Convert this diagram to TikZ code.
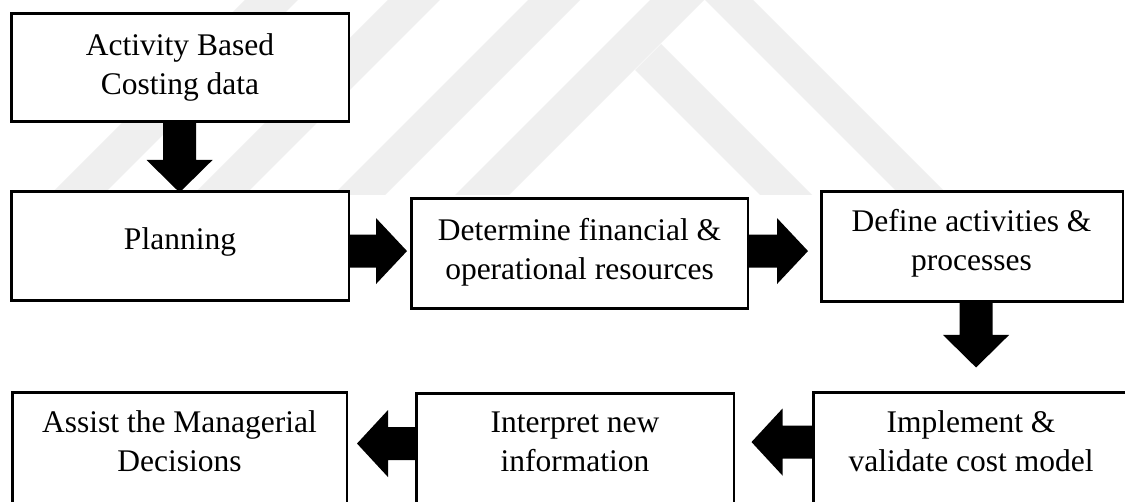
\documentclass[tikz,border=0pt]{standalone}
\usepackage{fontspec}
\setmainfont{Liberation Serif}
\usetikzlibrary{calc}
\definecolor{wm}{RGB}{239,239,239}
% block arrows: #1 start (node anchor), #2 tip (named coordinate)
\newcommand\downblock[2]{\fill let \p1=(#1),\p2=(#2) in
  (\x1-16.5pt,\y1) -- (\x1+16.5pt,\y1) -- (\x1+16.5pt,\y2+32.5pt) -- (\x1+33pt,\y2+32.5pt)
  -- (\x1,\y2) -- (\x1-33pt,\y2+32.5pt) -- (\x1-16.5pt,\y2+32.5pt) -- cycle;}
\newcommand\rightblock[2]{\fill let \p1=(#1),\p2=(#2) in
  (\x1,\y1+16.5pt) -- (\x2-31pt,\y1+16.5pt) -- (\x2-31pt,\y1+33pt) -- (\x2,\y1)
  -- (\x2-31pt,\y1-33pt) -- (\x2-31pt,\y1-16.5pt) -- (\x1,\y1-16.5pt) -- cycle;}
\newcommand\leftblock[2]{\fill let \p1=(#1),\p2=(#2) in
  (\x1,\y1+16.5pt) -- (\x2+31pt,\y1+16.5pt) -- (\x2+31pt,\y1+33.5pt) -- (\x2,\y1)
  -- (\x2+31pt,\y1-33.5pt) -- (\x2+31pt,\y1-16.5pt) -- (\x1,\y1-16.5pt) -- cycle;}
\begin{document}
\begin{tikzpicture}[x=1pt,y=-1pt,
  box/.style={draw=black, line width=2.6pt, fill=white, inner sep=0pt, anchor=north west},
  txt/.style={inner sep=0pt, anchor=base, font=\fontsize{31.5pt}{38.5pt}\selectfont}]
\useasboundingbox (0,0) rectangle (1125,502);
\clip (0,0) rectangle (1125,502);
\fill[white] (0,0) rectangle (1125,502);
% watermark
\begin{scope}
  \clip (0,0) rectangle (1125,195);
  \fill[wm] (245,0) -- (298,0) -- (103,195) -- (50,195) -- cycle;
  \fill[wm] (388,0) -- (440,0) -- (245,195) -- (193,195) -- cycle;
  \fill[wm] (528,0) -- (580,0) -- (385,195) -- (333,195) -- cycle;
  \fill[wm] (455,195) -- (701.5,-51.5) -- (948,195) -- (900,195) -- (704.5,-0.5) -- (509,195) -- cycle;
  \fill[wm] (635,70) -- (661,44) -- (812,195) -- (760,195) -- cycle;
\end{scope}
% boxes
\node[box, minimum width=337.5pt, minimum height=108.5pt] (abc) at (10,12) {};
\node[box, minimum width=337.5pt, minimum height=109.5pt] (plan) at (10,190) {};
\node[box, minimum width=336.5pt, minimum height=110.5pt] (det) at (410,197) {};
\node[box, minimum width=301.5pt, minimum height=110.5pt] (def) at (820,190) {};
\node[box, minimum width=315.5pt, minimum height=127.5pt] (impl) at (812,391) {};
\node[box, minimum width=317.5pt, minimum height=127.5pt] (interp) at (415,392) {};
\node[box, minimum width=334.5pt, minimum height=127.5pt] (assist) at (11,391) {};
% texts
\node[txt] (abc-t) at (180,56) {\begin{tabular}[t]{@{}c@{}}Activity Based\\Costing data\end{tabular}};
\node[txt] (plan-t) at (180,250) {Planning};
\node[txt] (det-t) at (579.5,241) {\begin{tabular}[t]{@{}c@{}}Determine financial \&\\operational resources\end{tabular}};
\node[txt] (def-t) at (971.5,232) {\begin{tabular}[t]{@{}c@{}}Define activities \&\\processes\end{tabular}};
\node[txt] (impl-t) at (971,433) {\begin{tabular}[t]{@{}c@{}}Implement \&\\validate cost model\end{tabular}};
\node[txt] (interp-t) at (575,433) {\begin{tabular}[t]{@{}c@{}}Interpret new\\information\end{tabular}};
\node[txt] (assist-t) at (179.5,433) {\begin{tabular}[t]{@{}c@{}}Assist the Managerial\\Decisions\end{tabular}};
% arrow tips
\coordinate (tipA) at (179.5,192.5);
\coordinate (tipB) at (407,251);
\coordinate (tipC) at (808,251);
\coordinate (tipD) at (975.5,367.5);
\coordinate (tipE) at (751.5,442);
\coordinate (tipF) at (357,443.5);
% arrows
\downblock{[xshift=-0.5pt]abc.south}{tipA}
\rightblock{[yshift=-5pt]plan.east}{tipB}
\rightblock{[yshift=2.5pt]det.east}{tipC}
\downblock{[xshift=4pt]def.south}{tipD}
\leftblock{[yshift=14pt]impl.west}{tipE}
\leftblock{[yshift=13.5pt]interp.west}{tipF}
\end{tikzpicture}
\end{document}
